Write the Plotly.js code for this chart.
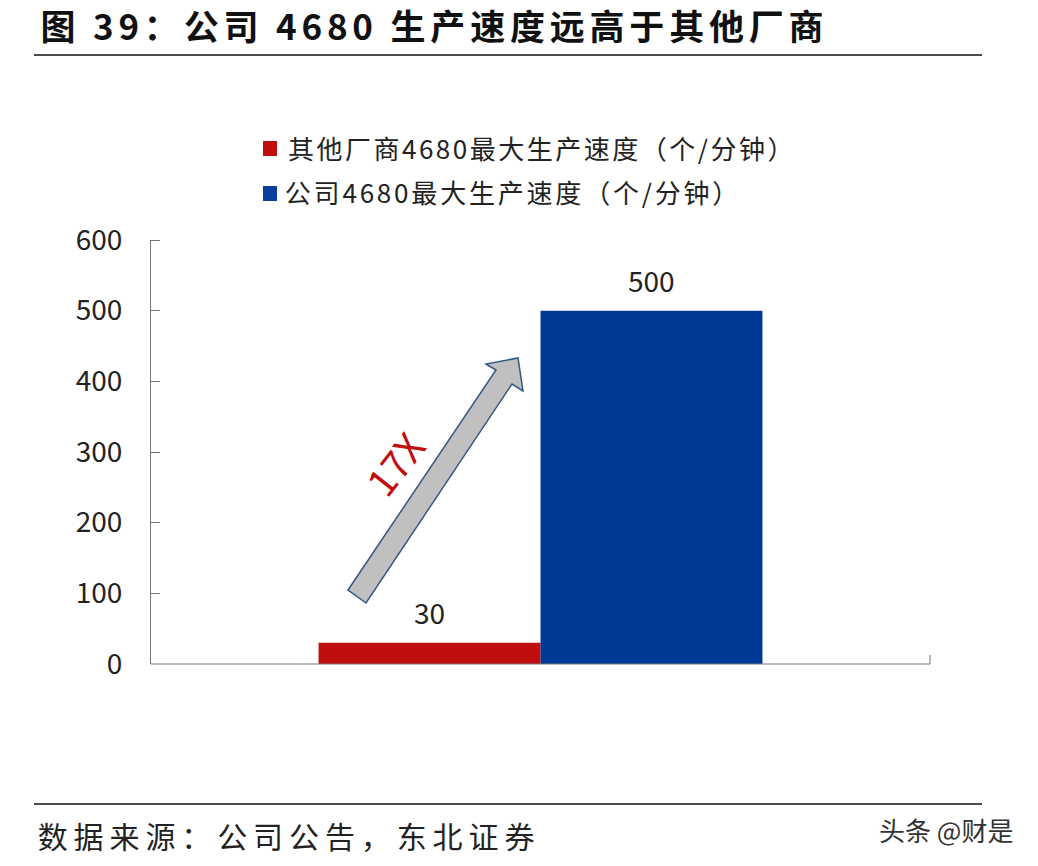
<!DOCTYPE html>
<html><head><meta charset="utf-8">
<script src="https://cdn.plot.ly/plotly-3.0.1.min.js"></script>
<style>html,body{margin:0;padding:0;background:#fff}#c{width:1038px;height:866px}
.annotation[data-index="0"] text{letter-spacing:4.8px}
.annotation[data-index="1"] text{letter-spacing:2.5px}
.annotation[data-index="2"] text{letter-spacing:2.8px}
.annotation[data-index="4"] text{letter-spacing:5.9px}
</style></head>
<body><div id="c"></div>
<script>
const seriesNames=['其他厂商4680最大生产速度（个/分钟）','公司4680最大生产速度（个/分钟）'];
const otherValues=[30];
const companyValues=[500];
const yTicks=[0,100,200,300,400,500,600];
const titleText='图 39：公司 4680 生产速度远高于其他厂商';
const sourceText='数据来源：公司公告，东北证券';
const cjk='"Noto Sans CJK SC","Noto Sans",sans-serif';
const W=1038,H=866,L=151,R=930,T=240,B=664;
const px=x=>x/W, py=y=>1-y/H;
Plotly.newPlot('c',[
 {type:'bar',name:seriesNames[0],x:[0],y:otherValues,width:[1],offset:[-1],marker:{color:'#c00d0d'}},
 {type:'bar',name:seriesNames[1],x:[0],y:companyValues,width:[1],offset:[0],marker:{color:'#003a96'}}
],{
 width:W,height:H,margin:{l:0,r:0,t:0,b:0},paper_bgcolor:'#fff',plot_bgcolor:'#fff',barmode:'overlay',
 xaxis:{domain:[L/W,R/W],range:[-1.755,1.755],showgrid:false,zeroline:false,showticklabels:false,ticks:'',showline:false},
 yaxis:{domain:[1-B/H,1-T/H],range:[0,600],tickvals:yTicks,ticks:'inside',ticklen:9,tickcolor:'#777',showgrid:false,zeroline:false,showline:true,linecolor:'#777',tickfont:{family:cjk,size:28,color:'#222'},ticklabelstandoff:22,anchor:'x'},
 showlegend:false,
 shapes:[
  {type:'line',xref:'paper',yref:'paper',x0:px(34),x1:px(982),y0:py(55),y1:py(55),line:{color:'#111',width:1.5}},
  {type:'line',xref:'paper',yref:'paper',x0:px(34),x1:px(982),y0:py(804),y1:py(804),line:{color:'#111',width:1.5}},
  {type:'line',xref:'paper',yref:'paper',x0:px(151),x1:px(930),y0:py(664),y1:py(664),line:{color:'#777',width:1}},
  {type:'line',xref:'paper',yref:'paper',x0:px(930),x1:px(930),y0:py(664),y1:py(655),line:{color:'#777',width:1}},
  {type:'line',xref:'paper',yref:'paper',x0:px(151),x1:px(160),y0:py(240.5),y1:py(240.5),line:{color:'#777',width:1}},
  {type:'rect',xref:'paper',yref:'paper',x0:px(263),x1:px(277),y0:py(141),y1:py(156),fillcolor:'#c00d0d',line:{width:0}},
  {type:'rect',xref:'paper',yref:'paper',x0:px(263),x1:px(277),y0:py(186),y1:py(201),fillcolor:'#0a3fa0',line:{width:0}},
  {type:'path',xref:'paper',yref:'paper',path:[[348,590],[496,370],[486,364],[518,358],[523,391],[512,384],[366,603]].map((p,i)=>(i?'L':'M')+px(p[0])+','+py(p[1])).join(' ')+' Z',fillcolor:'#c0c0c0',line:{color:'#2f5a85',width:1.5}}
 ],
 annotations:[
  {xref:'paper',yref:'paper',x:px(96),y:py(24),xanchor:'left',yanchor:'middle',showarrow:false,text:titleText,font:{family:cjk,size:35,color:'#111',weight:700}},
  {xref:'paper',yref:'paper',x:px(311),y:py(147),xanchor:'left',yanchor:'middle',showarrow:false,text:seriesNames[0],font:{family:cjk,size:26,color:'#222'}},
  {xref:'paper',yref:'paper',x:px(308),y:py(191),xanchor:'left',yanchor:'middle',showarrow:false,text:seriesNames[1],font:{family:cjk,size:26,color:'#222'}},
  {xref:'paper',yref:'paper',x:px(394),y:py(463),xanchor:'center',yanchor:'middle',showarrow:false,text:'17X',textangle:-52,font:{family:cjk,size:39,color:'#c00d0d'}},
  {xref:'paper',yref:'paper',x:px(77),y:py(835),xanchor:'left',yanchor:'middle',showarrow:false,text:sourceText,font:{family:cjk,size:30,color:'#222'}},
  {xref:'paper',yref:'paper',x:px(877),y:py(829),xanchor:'left',yanchor:'middle',showarrow:false,text:'头条 @财是',font:{family:cjk,size:26,color:'#333'}},
  {xref:'x',yref:'y',x:-0.5,y:otherValues[0],yanchor:'bottom',yshift:9,showarrow:false,text:String(otherValues[0]),font:{family:cjk,size:28,color:'#222'}},
  {xref:'x',yref:'y',x:0.5,y:companyValues[0],yanchor:'bottom',yshift:9,showarrow:false,text:String(companyValues[0]),font:{family:cjk,size:28,color:'#222'}}
 ]
},{displayModeBar:false,staticPlot:true});
</script></body></html>
